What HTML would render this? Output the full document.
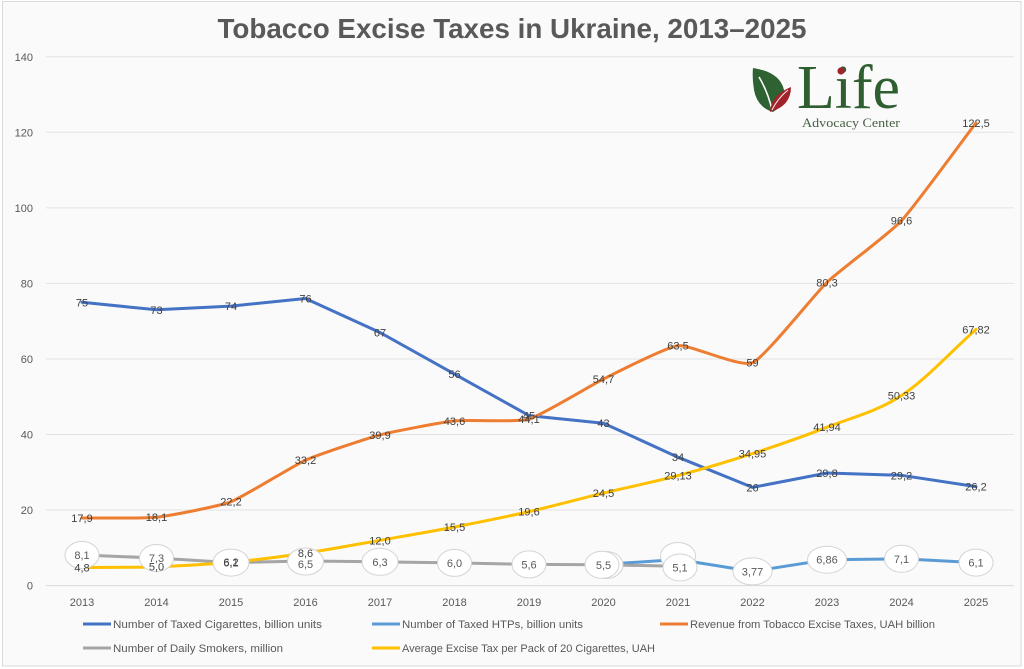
<!DOCTYPE html>
<html>
<head>
<meta charset="utf-8">
<style>
html,body{margin:0;padding:0;background:#ffffff;}
svg{display:block;}
.sans{font-family:"Liberation Sans",Arial,sans-serif;}
.ax{font-size:11px;fill:#595959;}
.dl{font-size:11px;fill:#404040;text-anchor:middle;}
.el{font-size:11px;fill:#595959;text-anchor:middle;}
.lg{font-size:11px;fill:#595959;}
</style>
</head>
<body>
<svg width="1024" height="669" viewBox="0 0 1024 669" xmlns="http://www.w3.org/2000/svg">
  <rect x="0" y="0" width="1024" height="669" fill="#ffffff"/>
  <rect x="2.5" y="1.5" width="1018.5" height="664.5" fill="#fafafa" stroke="#d9d9d9" stroke-width="1"/>

  <!-- Title -->
  <text class="sans" x="512" y="38" text-anchor="middle" font-size="27.5" font-weight="bold" fill="#595959" textLength="589" lengthAdjust="spacingAndGlyphs">Tobacco Excise Taxes in Ukraine, 2013–2025</text>

  <!-- Gridlines -->
  <g stroke="#e3e3e3" stroke-width="1">
    <line x1="46" y1="56.75" x2="1014" y2="56.75"/>
    <line x1="46" y1="132.3" x2="1014" y2="132.3"/>
    <line x1="46" y1="207.85" x2="1014" y2="207.85"/>
    <line x1="46" y1="283.4" x2="1014" y2="283.4"/>
    <line x1="46" y1="358.95" x2="1014" y2="358.95"/>
    <line x1="46" y1="434.5" x2="1014" y2="434.5"/>
    <line x1="46" y1="510.05" x2="1014" y2="510.05"/>
    <line x1="46" y1="585.6" x2="1014" y2="585.6" stroke="#d9d9d9"/>
  </g>

  <!-- Y axis labels -->
  <g class="ax sans" text-anchor="end">
    <text x="33" y="60.75">140</text>
    <text x="33" y="136.3">120</text>
    <text x="33" y="211.85">100</text>
    <text x="33" y="287.4">80</text>
    <text x="33" y="362.95">60</text>
    <text x="33" y="438.5">40</text>
    <text x="33" y="514.05">20</text>
    <text x="33" y="589.6">0</text>
  </g>

  <!-- X axis labels -->
  <g class="ax sans" text-anchor="middle">
    <text x="82" y="606">2013</text>
    <text x="156.5" y="606">2014</text>
    <text x="231" y="606">2015</text>
    <text x="305.5" y="606">2016</text>
    <text x="380" y="606">2017</text>
    <text x="454.5" y="606">2018</text>
    <text x="529" y="606">2019</text>
    <text x="603.5" y="606">2020</text>
    <text x="678" y="606">2021</text>
    <text x="752.5" y="606">2022</text>
    <text x="827" y="606">2023</text>
    <text x="901.5" y="606">2024</text>
    <text x="976" y="606">2025</text>
  </g>

  <!-- Logo -->
  <g>
    <path d="M753,68 Q780,72 784,90 Q786,104 773,112 Q757,107 754,90 Q752,78 753,68 Z" fill="#2f6233"/>
    <path d="M759,77 Q768,92 772,110" stroke="#fafafa" stroke-width="1.6" fill="none"/>
    <path d="M770,112 Q771,95 791,87 Q791,106 770,112 Z" fill="#a2232a"/>
    <path d="M772,110 Q778,98 788,90" stroke="#fafafa" stroke-width="1" fill="none"/>
    <text x="797" y="108" style="font-family:'Liberation Serif',serif;font-size:62px;" fill="#2f5f31" textLength="103" lengthAdjust="spacingAndGlyphs">Life</text>
    <circle cx="841" cy="71" r="3.6" fill="#a2232a"/>
    <text x="802" y="127" style="font-family:'Liberation Serif',serif;font-size:13px;" fill="#456145" textLength="98" lengthAdjust="spacingAndGlyphs">Advocacy Center</text>
  </g>

  <!-- Series lines -->
  <g fill="none" stroke-width="3" stroke-linejoin="round" stroke-linecap="round">
    <polyline stroke="#4472c4" points="82,302.3 156.5,309.8 231,306.1 305.5,298.5 380,332.5 454.5,374.1 529,415.6 603.5,423.2 678,457.2 752.5,487.4 827,473.0 901.5,475.3 976,486.6"/>
    <polyline stroke="#5b9bd5" points="603.5,564.4 678,559.5 752.5,571.4 827,559.7 901.5,558.8 976,562.6"/>
    <path stroke="#ed7d31" d="M82,518 C94.42,517.87 144.08,518.56 156.5,517.2 C168.92,515.84 218.58,506.45 231,501.7 C243.42,496.95 293.08,465.77 305.5,460.2 C317.92,454.63 367.58,438.18 380,434.9 C392.42,431.62 442.08,422.23 454.5,420.9 C466.92,419.57 516.58,422.49 529,419 C541.42,415.51 591.08,385.11 603.5,379 C615.92,372.89 665.58,347.06 678,345.7 C690.42,344.34 740.08,367.98 752.5,362.7 C764.92,357.42 814.58,294.13 827,282.3 C839.42,270.47 889.08,234 901.5,220.7 C913.92,207.42 963.58,139.2 976,122.9"/>
    <polyline stroke="#a5a5a5" points="82,555 156.5,558 231,562.6 305.5,561 380,561.8 454.5,562.9 529,564.4 603.5,564.8 678,566.3"/>
    <path stroke="#ffc000" d="M82,567.5 C106.83,567.23 131.67,567.58 156.5,566.7 C181.33,565.82 206.17,564.47 231,562.2 C255.83,559.93 280.67,556.75 305.5,553.1 C330.33,549.45 355.17,544.65 380,540.3 C404.83,535.95 429.67,531.78 454.5,527 C479.33,522.22 504.17,517.25 529,511.6 C553.83,505.95 578.67,499.1 603.5,493.1 C628.33,487.1 653.17,482.18 678,475.6 C702.83,469.02 727.67,461.67 752.5,453.6 C777.33,445.53 802.17,436.88 827,427.2 C851.83,417.52 876.67,411.8 901.5,395.5 C926.33,379.2 951.17,351.43 976,329.4"/>
  </g>

  <!-- Blue labels -->
  <g class="dl sans">
    <text x="82" y="306.3">75</text>
    <text x="156.5" y="313.8">73</text>
    <text x="231" y="310.1">74</text>
    <text x="305.5" y="302.5">76</text>
    <text x="380" y="336.5">67</text>
    <text x="454.5" y="378.1">56</text>
    <text x="529" y="419.6">45</text>
    <text x="603.5" y="427.2">43</text>
    <text x="678" y="461.2">34</text>
    <text x="752.5" y="491.4">26</text>
    <text x="827" y="477">29,8</text>
    <text x="901.5" y="479.3">29,2</text>
    <text x="976" y="490.6">26,2</text>
  </g>

  <!-- Light blue ellipse labels -->
  <g fill="#ffffff" stroke="#d4d4d4" stroke-width="1">
    <ellipse cx="606" cy="565" rx="17" ry="13.5"/>
    <ellipse cx="678" cy="556" rx="17.5" ry="13.5"/>
    <ellipse cx="752.5" cy="571.4" rx="19.5" ry="13.5"/>
    <ellipse cx="827" cy="559.7" rx="19.5" ry="13.5"/>
    <ellipse cx="901.5" cy="558.8" rx="17" ry="13.5"/>
    <ellipse cx="976" cy="562.6" rx="17" ry="13.5"/>
  </g>
  <g class="el sans">
    <text x="752.5" y="575.4">3,77</text>
    <text x="827" y="563.7">6,86</text>
    <text x="901.5" y="562.8">7,1</text>
    <text x="976" y="566.6">6,1</text>
  </g>

  <!-- Orange labels -->
  <g class="dl sans">
    <text x="82" y="522">17,9</text>
    <text x="156.5" y="521.2">18,1</text>
    <text x="231" y="505.7">22,2</text>
    <text x="305.5" y="464.2">33,2</text>
    <text x="380" y="438.9">39,9</text>
    <text x="454.5" y="424.9">43,6</text>
    <text x="529" y="423">44,1</text>
    <text x="603.5" y="383">54,7</text>
    <text x="678" y="349.7">63,5</text>
    <text x="752.5" y="366.7">59</text>
    <text x="827" y="286.3">80,3</text>
    <text x="901.5" y="224.7">96,6</text>
    <text x="976" y="126.9">122,5</text>
  </g>

  <!-- Gray ellipse labels -->
  <g fill="#ffffff" stroke="#d4d4d4" stroke-width="1">
    <ellipse cx="82" cy="555" rx="17" ry="13.5"/>
    <ellipse cx="156.5" cy="558" rx="17" ry="13.5"/>
    <ellipse cx="231" cy="562.6" rx="18" ry="13.5"/>
    <ellipse cx="305.5" cy="561.5" rx="18" ry="13.5"/>
    <ellipse cx="380" cy="561.8" rx="18" ry="13.5"/>
    <ellipse cx="454.5" cy="562.9" rx="17" ry="13.5"/>
    <ellipse cx="529" cy="564.4" rx="17" ry="13.5"/>
    <ellipse cx="602" cy="564.8" rx="17" ry="13.5"/>
    <ellipse cx="680" cy="567.5" rx="17" ry="13.5"/>
  </g>
  <g class="el sans">
    <text x="82" y="559">8,1</text>
    <text x="156.5" y="562">7,3</text>
    <text x="231" y="566.6">6,1</text>
    <text x="305.5" y="568">6,5</text>
    <text x="380" y="565.8">6,3</text>
    <text x="454.5" y="566.9">6,0</text>
    <text x="529" y="568.4">5,6</text>
    <text x="603.5" y="568.8">5,5</text>
    <text x="680" y="571.5">5,1</text>
  </g>

  <!-- Yellow labels -->
  <g class="dl sans">
    <text x="82" y="571.5">4,8</text>
    <text x="156.5" y="570.7">5,0</text>
    <text x="231" y="566.2">6,2</text>
    <text x="305.5" y="557.1">8,6</text>
    <text x="380" y="544.3">12,0</text>
    <text x="454.5" y="531">15,5</text>
    <text x="529" y="515.6">19,6</text>
    <text x="603.5" y="497.1">24,5</text>
    <text x="678" y="479.6">29,13</text>
    <text x="752.5" y="457.6">34,95</text>
    <text x="827" y="431.2">41,94</text>
    <text x="901.5" y="399.5">50,33</text>
    <text x="976" y="333.4">67,82</text>
  </g>

  <!-- Legend -->
  <g stroke-width="3">
    <line x1="83" y1="624" x2="111" y2="624" stroke="#4472c4"/>
    <line x1="372" y1="624" x2="400" y2="624" stroke="#5b9bd5"/>
    <line x1="660" y1="624" x2="688" y2="624" stroke="#ed7d31"/>
    <line x1="83" y1="648" x2="111" y2="648" stroke="#a5a5a5"/>
    <line x1="372" y1="648" x2="400" y2="648" stroke="#ffc000"/>
  </g>
  <g class="lg sans">
    <text x="113" y="628" textLength="209" lengthAdjust="spacingAndGlyphs">Number of Taxed Cigarettes, billion units</text>
    <text x="402" y="628" textLength="181" lengthAdjust="spacingAndGlyphs">Number of Taxed HTPs, billion units</text>
    <text x="690" y="628" textLength="245" lengthAdjust="spacingAndGlyphs">Revenue from Tobacco Excise Taxes, UAH billion</text>
    <text x="113" y="652" textLength="170" lengthAdjust="spacingAndGlyphs">Number of Daily Smokers, million</text>
    <text x="402" y="652" textLength="253" lengthAdjust="spacingAndGlyphs">Average Excise Tax per Pack of 20 Cigarettes, UAH</text>
  </g>
</svg>
</body>
</html>
